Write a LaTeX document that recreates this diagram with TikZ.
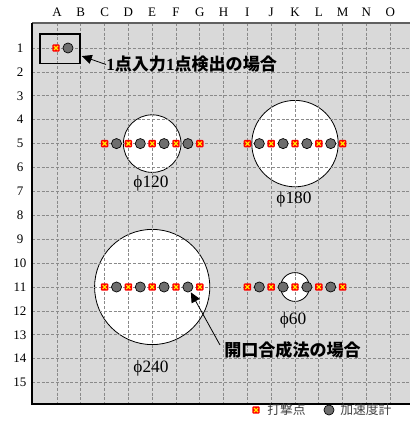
\documentclass[tikz,border=0pt]{standalone}
\usepackage{fontspec}
\setmainfont{Liberation Serif}
\newfontfamily\jpfont{Noto Sans CJK JP}
\usetikzlibrary{arrows.meta,calc}
\definecolor{gridbg}{HTML}{D9D9D9}
\definecolor{gridln}{HTML}{8A8A8A}
\definecolor{accg}{HTML}{6E6E6E}
\tikzset{
  hit/.style={rectangle, rounded corners=0.8pt, fill=red, minimum size=5.6pt, inner sep=0pt,
    path picture={\draw[yellow, line width=0.8pt]
      ([shift={(1.3pt,1.3pt)}]path picture bounding box.south west) -- ([shift={(-1.3pt,-1.3pt)}]path picture bounding box.north east)
      ([shift={(1.3pt,-1.3pt)}]path picture bounding box.north west) -- ([shift={(-1.3pt,1.3pt)}]path picture bounding box.south east);}},
  acc/.style={circle, draw=black, line width=0.5pt, fill=accg, minimum size=7.6pt, inner sep=0pt},
  ring/.style={circle, draw=black, line width=0.6pt, fill=white, inner sep=0pt},
  gridline/.style={gridln, dash pattern=on 2.2pt off 1.4pt, line width=0.55pt},
  axislabel/.style={font=\fontsize{9.75}{11}\selectfont},
  dialabel/.style={font=\fontsize{13}{15}\selectfont},
  callout/.style={font=\jpfont\bfseries\fontsize{12.8}{15}\selectfont, inner sep=0pt, anchor=west},
  legendtext/.style={font=\jpfont\fontsize{9.6}{11}\selectfont, text=black!75, inner sep=0pt, anchor=west},
  pointer/.style={line width=0.6pt, -{Triangle[length=7.5pt,width=6.8pt]}},
}
\begin{document}
\begin{tikzpicture}[x=0.75pt, y=-0.75pt]
\useasboundingbox (0,0) rectangle (410,421);
% background of grid
\fill[gridbg] (32,23) rectangle (416,404);
% white circles
\node[ring, minimum size=43.2pt] (c120) at (152.2,143.6) {};
\node[ring, minimum size=64.8pt] (c180) at (295,143.6) {};
\node[ring, minimum size=86.4pt] (c240) at (152.2,287) {};
\node[ring, minimum size=21.6pt] (c60) at (295,287) {};
% grid lines
\foreach \i in {0,...,14} {
  \draw[gridline] ({57+23.8*\i},23) -- ({57+23.8*\i},404);
  \draw[gridline] (32,{48+23.9*\i}) -- (416,{48+23.9*\i});
}
% border
\draw[gray!75!black, line width=1.3pt] (32,23) -- (416,23);
\draw[black, line width=0.8pt] (32,23) -- (32,404) -- (416,404);
% column and row labels
\foreach \c [count=\i from 0] in {A,B,C,D,E,F,G,H,I,J,K,L,M,N,O}
  \node[axislabel] (col\c) at ({57+23.8*\i},12) {\c};
\foreach \r [count=\j from 0] in {1,...,15}
  \node[axislabel] (row\r) at (20,{48+23.9*\j}) {\r};
% single point box
\node[draw=black, line width=0.8pt, minimum width=30pt, minimum height=21.8pt, inner sep=0pt] (box) at (60,48.5) {};
\node[hit] (h0) at (56,48) {};
\node[acc] (a0) at (68,48) {};
% marker rows
\foreach \name/\cx/\cy in {m120/152.2/143.6, m180/295/143.6, m240/152.2/287, m60/295/287} {
  \foreach \k in {-2,...,2}
    \node[hit] (\name h\k) at ({\cx+23.8*\k},\cy) {};
  \foreach \k in {-2,...,1}
    \node[acc] (\name a\k) at ({\cx+23.8*\k+11.9},\cy) {};
}
% diameter labels
\node[dialabel] (l120) at (151,183) {ϕ120};
\node[dialabel] (l180) at (294,199) {ϕ180};
\node[dialabel] (l240) at (151,368) {ϕ240};
\node[dialabel] (l60) at (293,320) {ϕ60};
% callouts
\node[callout] (t1) at (106,64.5) {{\fontspec{Liberation Serif}\bfseries 1}点入力{\fontspec{Liberation Serif}\bfseries 1}点検出の場合};
\draw[pointer, shorten >=1pt] (t1.west) -- (box);
\node[callout] (t2) at (224,350) {開口合成法の場合};
\draw[pointer, shorten >=0.5pt] ($(t2.west)+(-4,-5)$) -- (m240a1);
% legend
\node[hit] (lh) at (256,410) {};
\node[legendtext] (lht) at (267,410) {打撃点};
\node[acc] (la) at (329,410) {};
\node[legendtext] (lat) at (340,410) {加速度計};
\end{tikzpicture}
\end{document}
